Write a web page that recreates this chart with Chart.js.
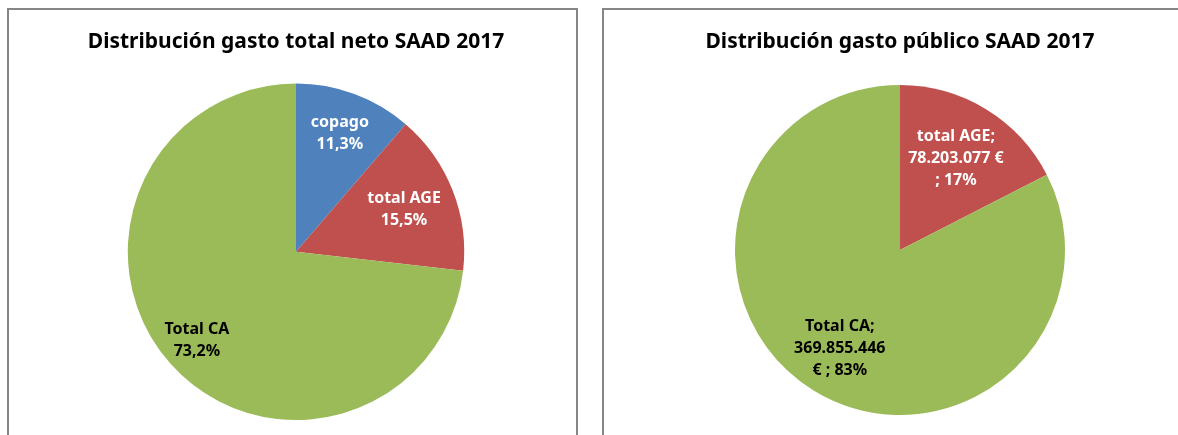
<!DOCTYPE html>
<html>
<head>
<meta charset="utf-8">
<script src="https://cdn.jsdelivr.net/npm/chart.js@4"></script>
<style>
  body { margin: 0; width: 1178px; height: 435px; overflow: hidden; background: #fff; position: relative; }
  .panel { position: absolute; top: 8px; height: 500px; border: 2px solid #868686; box-sizing: border-box; }
  canvas { position: absolute; top: 10px; }
</style>
</head>
<body>
<div class="panel" style="left:7px; width:571px;"></div>
<div class="panel" style="left:602px; width:600px;"></div>
<canvas id="graphTotal" width="566" height="425" style="left:13px;"></canvas>
<canvas id="graphPublico" width="592" height="425" style="left:604px;"></canvas>
<script>
// datos grafico izquierdo (porcentajes)
const labelsTotal = ['copago', 'total AGE', 'Total CA'];
const valoresTotal = [11.3, 15.5, 73.2];

// datos grafico derecho (euros)
const labelsPublico = ['total AGE', 'Total CA'];
const valoresPublico = [78203077, 369855446];

const titulos = ['Distribución gasto total neto SAAD 2017', 'Distribución gasto público SAAD 2017'];

const AZUL = '#4F81BD', ROJO = '#C0504D', VERDE = '#9BBB59';
const FUENTE = '"Noto Sans", sans-serif';

function miles(n) {
    return n.toString().replace(/\B(?=(\d{3})+(?!\d))/g, '.');
}

// Etiquetas dentro de cada porcion
const etiquetasPlugin = {
    id: 'etiquetas',
    afterDatasetsDraw(chart, args, opts) {
        const ctx = chart.ctx;
        const meta = chart.getDatasetMeta(0);
        ctx.save();
        ctx.font = 'bold 16px ' + FUENTE;
        ctx.textAlign = 'center';
        ctx.textBaseline = 'middle';
        meta.data.forEach((arc, i) => {
            const mid = (arc.startAngle + arc.endAngle) / 2;
            const r = arc.outerRadius * opts.radios[i];
            const x = arc.x + Math.cos(mid) * r;
            const y = arc.y + Math.sin(mid) * r;
            const lineas = opts.texto(i);
            ctx.fillStyle = opts.colores[i];
            const h = 22;
            lineas.forEach((l, k) => {
                ctx.fillText(l, x, y + (k - (lineas.length - 1) / 2) * h);
            });
        });
        ctx.restore();
    }
};

function opciones(titulo, padBottom, padTitulo, etiquetas) {
    return {
        responsive: false,
        animation: false,
        layout: { padding: { bottom: padBottom } },
        plugins: {
            legend: { display: false },
            tooltip: { enabled: false },
            title: {
                display: true,
                text: titulo,
                color: '#000',
                font: { family: FUENTE, size: 21, weight: 'bold', lineHeight: 1.2 },
                padding: { top: 19.2, bottom: padTitulo }
            },
            etiquetas: etiquetas
        }
    };
}

new Chart(document.getElementById('graphTotal'), {
    type: 'pie',
    data: {
        labels: labelsTotal,
        datasets: [{
            data: valoresTotal,
            backgroundColor: [AZUL, ROJO, VERDE],
            borderWidth: 0
        }]
    },
    options: opciones(titulos[0], 15, 29.2, {
        radios: [0.75, 0.69, 0.79],
        colores: ['#fff', '#fff', '#000'],
        texto: i => [labelsTotal[i], valoresTotal[i].toFixed(1).replace('.', ',') + '%']
    }),
    plugins: [etiquetasPlugin]
});

const totalPublico = valoresPublico.reduce((a, b) => a + b, 0);
function pct(i) { return Math.round(valoresPublico[i] / totalPublico * 100) + '%'; }

new Chart(document.getElementById('graphPublico'), {
    type: 'pie',
    data: {
        labels: labelsPublico,
        datasets: [{
            data: valoresPublico,
            backgroundColor: [ROJO, VERDE],
            borderWidth: 0
        }]
    },
    options: opciones(titulos[1], 20, 30.6, {
        radios: [0.65, 0.70],
        colores: ['#fff', '#000'],
        // el salto de linea sigue al del original
        texto: i => i === 0
            ? [labelsPublico[i] + ';', miles(valoresPublico[i]) + ' €', '; ' + pct(i)]
            : [labelsPublico[i] + ';', miles(valoresPublico[i]), '€ ; ' + pct(i)]
    }),
    plugins: [etiquetasPlugin]
});
</script>
</body>
</html>
